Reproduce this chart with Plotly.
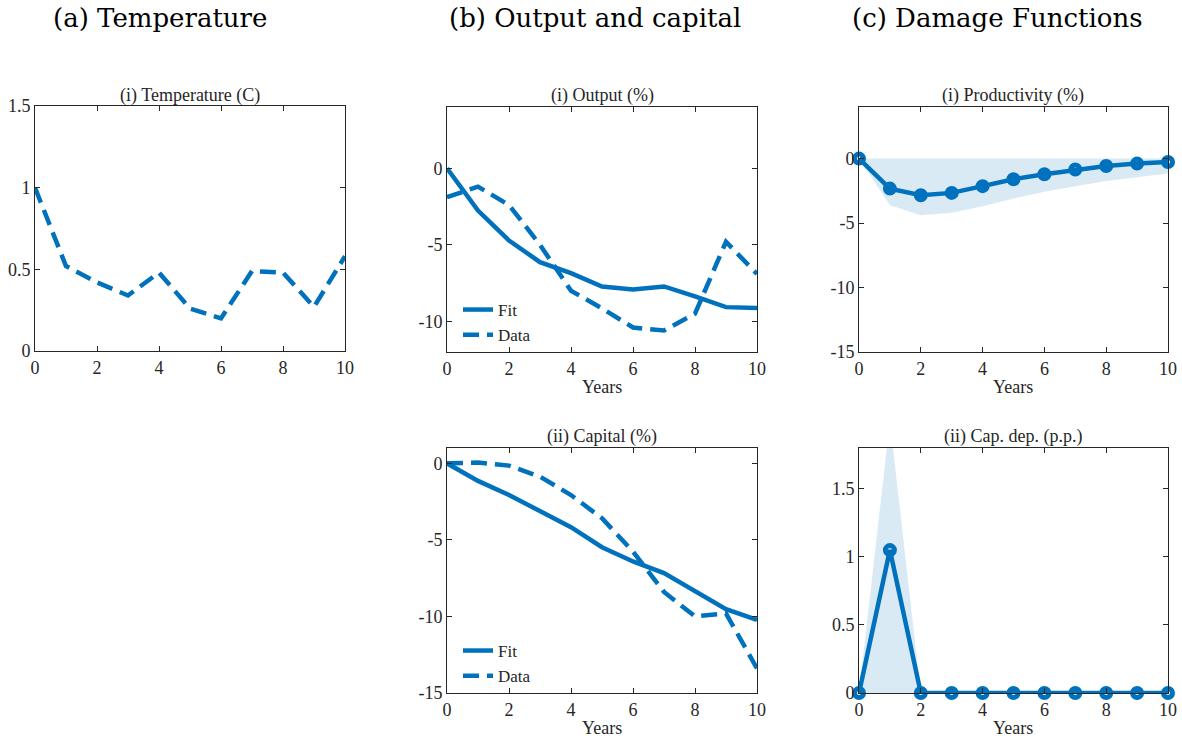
import plotly.graph_objects as go

# ---------------- data ----------------
years = list(range(11))
temperature = [1.0, 0.52, 0.42, 0.34, 0.48, 0.26, 0.20, 0.49, 0.48, 0.27, 0.58]

output_fit = [0.0, -2.76, -4.72, -6.13, -6.85, -7.72, -7.91, -7.72, -8.37, -9.07, -9.13]
output_data = [-1.89, -1.2, -2.4, -5.0, -8.0, -9.15, -10.4, -10.6, -9.5, -4.8, -6.9]

capital_fit = [0.0, -1.15, -2.07, -3.15, -4.17, -5.48, -6.41, -7.17, -8.37, -9.52, -10.22]
capital_data = [0.0, 0.05, -0.15, -0.87, -2.07, -3.59, -5.76, -8.4, -10.0, -9.8, -13.4]

productivity = [0.0, -2.33, -2.84, -2.66, -2.14, -1.6, -1.21, -0.85, -0.57, -0.39, -0.26]
productivity_upper = [0.0] * 11
productivity_lower = [0.0, -3.62, -4.39, -4.21, -3.7, -3.1, -2.58, -2.14, -1.73, -1.42, -1.16]

capdep = [0.0, 1.05, 0, 0, 0, 0, 0, 0, 0, 0, 0]
capdep_upper = [0.0, 2.0, 0, 0, 0, 0, 0, 0, 0, 0, 0]
capdep_lower = [0.0] * 11

column_titles = ["(a) Temperature", "(b) Output and capital", "(c) Damage Functions"]
panel_titles = ["(i) Temperature (C)", "(i) Output (%)", "(ii) Capital (%)",
                "(i) Productivity (%)", "(ii) Cap. dep. (p.p.)"]

# ---------------- style ----------------
W, H = 1182, 740
BLUE = "#0072BD"
BAND = "rgba(0,114,189,0.15)"
FONT = "Liberation Serif"
HFONT = "DejaVu Serif"
AXC = "#262626"
DASH = "16px,8px"
LW = 4.5


def px_x(p):
    return p / W


def px_y(p):
    return 1 - p / H


fig = go.Figure()

# (a) temperature
fig.add_trace(go.Scatter(x=years, y=temperature, mode="lines", xaxis="x", yaxis="y",
                         line=dict(color=BLUE, width=LW, dash=DASH), showlegend=False))

# (b) output
fig.add_trace(go.Scatter(x=years, y=output_fit, mode="lines", name="Fit", xaxis="x2", yaxis="y2",
                         line=dict(color=BLUE, width=LW), legend="legend"))
fig.add_trace(go.Scatter(x=years, y=output_data, mode="lines", name="Data", xaxis="x2", yaxis="y2",
                         line=dict(color=BLUE, width=LW, dash=DASH), legend="legend"))

# (b) capital
fig.add_trace(go.Scatter(x=years, y=capital_fit, mode="lines", name="Fit", xaxis="x3", yaxis="y3",
                         line=dict(color=BLUE, width=LW), legend="legend2"))
fig.add_trace(go.Scatter(x=years, y=capital_data, mode="lines", name="Data", xaxis="x3", yaxis="y3",
                         line=dict(color=BLUE, width=LW, dash=DASH), legend="legend2"))

# (c) productivity
fig.add_trace(go.Scatter(x=years + years[::-1], y=productivity_upper + productivity_lower[::-1],
                         fill="toself", fillcolor=BAND, line=dict(width=0), mode="lines",
                         xaxis="x4", yaxis="y4", showlegend=False, hoverinfo="skip"))
fig.add_trace(go.Scatter(x=years, y=productivity, mode="lines+markers", xaxis="x4", yaxis="y4",
                         line=dict(color=BLUE, width=LW),
                         marker=dict(symbol="circle-open", size=9, color=BLUE, line=dict(width=5, color=BLUE)),
                         cliponaxis=False, showlegend=False))

# (c) capital depreciation
fig.add_trace(go.Scatter(x=years + years[::-1], y=capdep_upper + capdep_lower[::-1],
                         fill="toself", fillcolor=BAND, line=dict(width=0), mode="lines",
                         xaxis="x5", yaxis="y5", showlegend=False, hoverinfo="skip"))
fig.add_trace(go.Scatter(x=years, y=capdep, mode="lines+markers", xaxis="x5", yaxis="y5",
                         line=dict(color=BLUE, width=LW),
                         marker=dict(symbol="circle-open", size=9, color=BLUE, line=dict(width=5, color=BLUE)),
                         cliponaxis=False, showlegend=False))


def axis(domain, rng, tickvals, ticktext, anchor):
    return dict(domain=domain, range=rng, tickvals=tickvals, ticktext=ticktext, anchor=anchor,
                ticks="inside", ticklen=5, tickwidth=1, tickcolor=AXC,
                showline=True, linecolor=AXC, linewidth=1, mirror="ticks",
                showgrid=False, zeroline=False,
                tickfont=dict(family=FONT, size=18, color="#262626"), automargin=False)


xt = [0, 2, 4, 6, 8, 10]
xtt = [str(v) for v in xt]

colA = [px_x(35), px_x(345)]
colB = [px_x(447), px_x(757)]
colC = [px_x(859), px_x(1168)]
rowTop = [px_y(352), px_y(107)]
rowBot = [px_y(693), px_y(448)]

legfont = dict(family=FONT, size=17, color="#262626")
layout = dict(
    width=W, height=H, paper_bgcolor="white", plot_bgcolor="white",
    margin=dict(l=0, r=0, t=0, b=0),
    xaxis=axis(colA, [0, 10], xt, xtt, "y"),
    yaxis=axis([px_y(351), px_y(106)], [0, 1.5], [0, 0.5, 1, 1.5], ["0", "0.5", "1", "1.5"], "x"),
    xaxis2=axis(colB, [0, 10], xt, xtt, "y2"),
    yaxis2=axis(rowTop, [-12, 4], [-10, -5, 0], ["-10", "-5", "0"], "x2"),
    xaxis3=axis(colB, [0, 10], xt, xtt, "y3"),
    yaxis3=axis(rowBot, [-15, 1], [-15, -10, -5, 0], ["-15", "-10", "-5", "0"], "x3"),
    xaxis4=axis(colC, [0, 10], xt, xtt, "y4"),
    yaxis4=axis(rowTop, [-15, 4], [-15, -10, -5, 0], ["-15", "-10", "-5", "0"], "x4"),
    xaxis5=axis(colC, [0, 10], xt, xtt, "y5"),
    yaxis5=axis(rowBot, [0, 1.8], [0, 0.5, 1, 1.5], ["0", "0.5", "1", "1.5"], "x5"),
    legend=dict(x=px_x(458), y=px_y(292), xanchor="left", yanchor="top",
                bgcolor="rgba(0,0,0,0)", font=legfont, tracegroupgap=0, itemwidth=30),
    legend2=dict(x=px_x(458), y=px_y(633), xanchor="left", yanchor="top",
                 bgcolor="rgba(0,0,0,0)", font=legfont, tracegroupgap=0, itemwidth=30),
    showlegend=True,
)

annotations = []
for txt, cx in zip(column_titles, [160, 595, 997]):
    annotations.append(dict(text=txt, x=px_x(cx), y=px_y(18), xref="paper", yref="paper",
                            showarrow=False, xanchor="center", yanchor="middle",
                            font=dict(family=HFONT, size=26, color="black")))
for txt, cx, cy in zip(panel_titles, [190, 602, 602, 1013, 1013], [95, 95, 436, 95, 436]):
    annotations.append(dict(text=txt, x=px_x(cx), y=px_y(cy), xref="paper", yref="paper",
                            showarrow=False, xanchor="center", yanchor="middle",
                            font=dict(family=FONT, size=18, color="#262626")))
for cx, cy in [(602, 387), (602, 728), (1013, 387), (1013, 728)]:
    annotations.append(dict(text="Years", x=px_x(cx), y=px_y(cy), xref="paper", yref="paper",
                            showarrow=False, xanchor="center", yanchor="middle",
                            font=dict(family=FONT, size=18, color="#262626")))
layout["annotations"] = annotations

fig.update_layout(**layout)
fig.write_html("out.html", config={"displayModeBar": False},
               post_script="document.body.style.margin='0';document.body.style.padding='0';")
